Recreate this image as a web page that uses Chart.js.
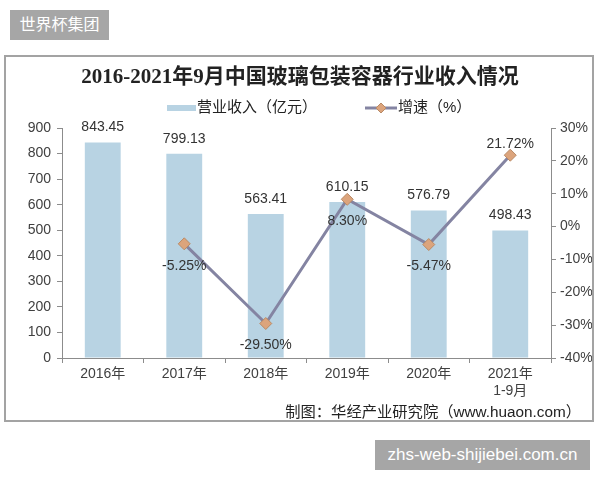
<!DOCTYPE html>
<html><head><meta charset="utf-8">
<script src="https://cdn.jsdelivr.net/npm/chart.js@4.4.1/dist/chart.umd.min.js"></script>
<style>
html,body{margin:0;padding:0;background:#fff;width:600px;height:480px;overflow:hidden;font-family:"Liberation Sans","Noto Sans CJK SC",sans-serif;}
.badge{position:absolute;background:#a6a6a6;color:#fff;font-size:16px;line-height:30px;text-align:center;}
#frame{position:absolute;left:4px;top:55px;width:586px;height:363px;border:2px solid #a3a3a3;}
#credit{position:absolute;left:0;width:581px;text-align:right;top:399px;font-size:15.3px;color:#222;}
</style></head><body>
<div class="badge" style="left:10px;top:10px;width:99px;height:30px;">世界杯集团</div>
<div id="frame"><canvas id="c" width="586" height="363"></canvas></div>
<div id="credit">制图：华经产业研究院（www.huaon.com）</div>
<div class="badge" style="left:375px;top:440px;width:215px;height:30px;font-size:17px;">zhs-web-shijiebei.com.cn</div>
<script>
const categories = ["2016年","2017年","2018年","2019年","2020年",["2021年","1-9月"]];
const revenue = [843.45, 799.13, 563.41, 610.15, 576.79, 498.43];
const growth = [null, -5.25, -29.50, 8.30, -5.47, 21.72];
const leftTicks = [0,100,200,300,400,500,600,700,800,900];
const rightTicks = [-40,-30,-20,-10,0,10,20,30];
const titleText = "2016-2021年9月中国玻璃包装容器行业收入情况";
const seriesNames = ["营业收入（亿元）","增速（%）"];

const barColor = "#b8d3e3";
const lineColor = "#8484a2";
const markerFill = "#dca47c";
const markerBorder = "#b98a66";
const axisColor = "#8c8c8c";
const textColor = "#404040";

const overlay = {
  id: "overlay",
  afterDraw(chart) {
    const ctx = chart.ctx;
    ctx.save();
    // title
    ctx.fillStyle = "#222";
    ctx.font = 'bold 21px "Liberation Serif","Noto Sans CJK SC",serif';
    ctx.textAlign = "center"; ctx.textBaseline = "middle";
    ctx.fillText(titleText, 294, 21);
    // legend
    ctx.font = '15px "Liberation Sans","Noto Sans CJK SC",sans-serif';
    ctx.textAlign = "left";
    ctx.fillStyle = barColor;
    ctx.fillRect(161, 48, 29, 6);
    ctx.fillStyle = "#222";
    ctx.fillText(seriesNames[0], 191, 51);
    ctx.strokeStyle = lineColor; ctx.lineWidth = 3;
    ctx.beginPath(); ctx.moveTo(359, 51); ctx.lineTo(391, 51); ctx.stroke();
    ctx.fillStyle = markerFill; ctx.strokeStyle = markerBorder; ctx.lineWidth = 1;
    ctx.beginPath(); ctx.moveTo(375, 46); ctx.lineTo(380, 51); ctx.lineTo(375, 56); ctx.lineTo(370, 51); ctx.closePath(); ctx.fill(); ctx.stroke();
    ctx.fillStyle = "#222";
    ctx.fillText(seriesNames[1], 392, 51);
    // data labels
    ctx.font = '14px "Liberation Sans","Noto Sans CJK SC",sans-serif';
    ctx.textAlign = "center";
    ctx.fillStyle = "#333";
    const barMeta = chart.getDatasetMeta(0);
    barMeta.data.forEach((el, i) => {
      ctx.fillText(revenue[i].toFixed(2), el.x, el.y - 15);
    });
    const lineMeta = chart.getDatasetMeta(1);
    lineMeta.data.forEach((el, i) => {
      if (growth[i] === null) return;
      const dy = (i === growth.length - 1) ? -11 : 22;
      ctx.fillText(growth[i].toFixed(2) + "%", el.x, el.y + dy);
    });
    ctx.restore();
  }
};

new Chart(document.getElementById("c"), {
  data: {
    labels: categories,
    datasets: [
      { type: "bar", label: seriesNames[0], data: revenue, backgroundColor: barColor, yAxisID: "y", order: 2, categoryPercentage: 1, barPercentage: 0.44 },
      { type: "line", label: seriesNames[1], data: growth, yAxisID: "y1", order: 1, borderColor: lineColor, borderWidth: 3, pointStyle: "rectRot", pointRadius: 6, pointHoverRadius: 6, pointBackgroundColor: markerFill, pointBorderColor: markerBorder, pointBorderWidth: 1, tension: 0, spanGaps: false }
    ]
  },
  options: {
    responsive: false, animation: false,
    layout: { padding: { top: 71, left: 0, right: 0, bottom: 0 } },
    plugins: { legend: { display: false }, title: { display: false }, tooltip: { enabled: false } },
    scales: {
      x: {
        grid: { display: true, offset: true, drawOnChartArea: false, drawTicks: true, tickLength: 5, color: axisColor },
        border: { display: true, color: axisColor, width: 1 },
        ticks: { color: textColor, font: { size: 14, family: '"Liberation Sans","Noto Sans CJK SC",sans-serif' }, padding: 3, maxRotation: 0, autoSkip: false },
        afterFit(s) { s.height = 62; }
      },
      y: {
        position: "left", min: 0, max: 900,
        afterBuildTicks(s) { s.ticks = leftTicks.map(v => ({ value: v })); },
        grid: { display: true, drawOnChartArea: false, drawTicks: true, tickLength: 5, color: axisColor },
        border: { display: true, color: axisColor, width: 1 },
        ticks: { color: textColor, font: { size: 14, family: '"Liberation Sans",sans-serif' }, padding: 6 },
        afterFit(s) { s.width = 56; }
      },
      y1: {
        position: "right", min: -40, max: 30,
        afterBuildTicks(s) { s.ticks = rightTicks.map(v => ({ value: v })); },
        grid: { display: true, drawOnChartArea: false, drawTicks: true, tickLength: 5, color: axisColor },
        border: { display: true, color: axisColor, width: 1 },
        ticks: { color: textColor, font: { size: 14, family: '"Liberation Sans",sans-serif' }, padding: 4, callback: v => v + "%" },
        afterFit(s) { s.width = 41; }
      }
    }
  },
  plugins: [overlay]
});
</script>
</body></html>
